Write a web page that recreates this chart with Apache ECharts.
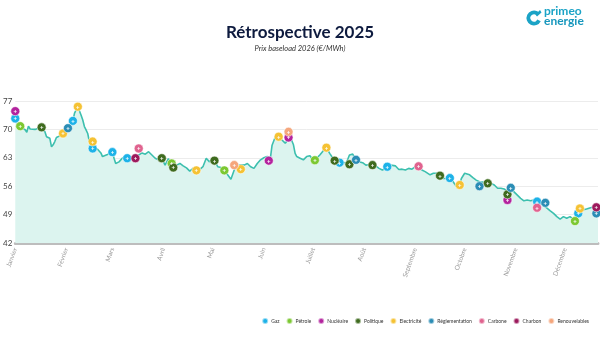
<!DOCTYPE html>
<html><head><meta charset="utf-8">
<script src="https://cdn.jsdelivr.net/npm/echarts@6/dist/echarts.min.js"></script>
<style>html,body{margin:0;padding:0;background:#fff}#c{width:600px;height:338px}</style>
</head><body><div id="c"></div>
<script>
const monthLabels = ['Janvier','Février','Mars','Avril','Mai','Juin','Juillet','Août','Septembre','Octobre','Novembre','Décembre'];

const lineDates = ['2025-01-01','2025-01-03','2025-01-05','2025-01-07','2025-01-08','2025-01-09','2025-01-10','2025-01-11','2025-01-13','2025-01-15','2025-01-17','2025-01-18','2025-01-19','2025-01-20','2025-01-21','2025-01-22','2025-01-23','2025-01-24','2025-01-25','2025-01-26','2025-01-27','2025-01-28','2025-01-30','2025-02-01','2025-02-02','2025-02-05','2025-02-06','2025-02-08','2025-02-10','2025-02-11','2025-02-12','2025-02-13','2025-02-14','2025-02-15','2025-02-16','2025-02-17','2025-02-20','2025-02-22','2025-02-23','2025-02-26','2025-03-01','2025-03-02','2025-03-03','2025-03-05','2025-03-07','2025-03-09','2025-03-11','2025-03-12','2025-03-15','2025-03-17','2025-03-19','2025-03-21','2025-03-23','2025-03-25','2025-03-27','2025-03-29','2025-03-31','2025-04-02','2025-04-04','2025-04-06','2025-04-07','2025-04-09','2025-04-11','2025-04-13','2025-04-15','2025-04-17','2025-04-19','2025-04-21','2025-04-23','2025-04-25','2025-04-27','2025-04-29','2025-05-01','2025-05-02','2025-05-04','2025-05-06','2025-05-08','2025-05-10','2025-05-12','2025-05-14','2025-05-15','2025-05-18','2025-05-20','2025-05-22','2025-05-24','2025-05-26','2025-05-28','2025-05-30','2025-06-01','2025-06-03','2025-06-05','2025-06-06','2025-06-08','2025-06-10','2025-06-12','2025-06-14','2025-06-15','2025-06-17','2025-06-19','2025-06-20','2025-06-21','2025-06-23','2025-06-25','2025-06-27','2025-06-29','2025-07-01','2025-07-03','2025-07-05','2025-07-07','2025-07-09','2025-07-11','2025-07-13','2025-07-15','2025-07-17','2025-07-19','2025-07-21','2025-07-23','2025-07-25','2025-07-27','2025-07-29','2025-07-31','2025-08-02','2025-08-06','2025-08-08','2025-08-10','2025-08-12','2025-08-15','2025-08-17','2025-08-20','2025-08-22','2025-08-24','2025-08-26','2025-08-28','2025-08-30','2025-09-01','2025-09-03','2025-09-05','2025-09-07','2025-09-10','2025-09-12','2025-09-14','2025-09-16','2025-09-18','2025-09-20','2025-09-22','2025-09-24','2025-09-26','2025-09-28','2025-09-29','2025-10-01','2025-10-02','2025-10-04','2025-10-06','2025-10-08','2025-10-10','2025-10-12','2025-10-15','2025-10-17','2025-10-19','2025-10-21','2025-10-23','2025-10-25','2025-10-27','2025-10-29','2025-10-31','2025-11-02','2025-11-04','2025-11-06','2025-11-08','2025-11-10','2025-11-12','2025-11-14','2025-11-16','2025-11-18','2025-11-20','2025-11-22','2025-11-24','2025-11-26','2025-11-28','2025-11-30','2025-12-02','2025-12-04','2025-12-05','2025-12-07','2025-12-09','2025-12-11','2025-12-14','2025-12-18','2025-12-21'];
const lineValues = [72.5,70.8,70.4,69.9,69.3,70.8,70.1,69.7,70.0,70.3,70.5,70.2,69.4,68.2,68.0,67.8,65.7,66.2,67.0,68.0,68.2,68.4,69.0,69.9,70.3,72.1,74.0,75.6,73.5,72.3,70.7,69.9,69.0,67.0,66.2,65.5,65.1,64.2,63.3,63.8,64.4,62.9,61.6,62.0,62.9,63.4,63.0,62.8,62.9,63.7,64.2,63.9,64.5,63.7,62.9,62.5,62.9,61.2,62.8,61.6,60.8,61.2,61.6,61.0,60.5,59.7,60.4,59.9,60.1,60.8,62.9,62.0,63.0,62.3,60.8,60.6,59.9,58.8,57.7,60.0,61.0,61.3,61.2,61.6,60.8,60.4,61.6,62.5,63.0,63.3,63.0,66.1,68.2,68.2,67.4,66.6,67.0,68.2,66.2,64.1,63.3,62.9,62.5,63.3,63.5,62.4,62.9,63.7,64.7,65.5,64.1,62.9,62.2,61.8,62.0,61.6,63.7,63.9,62.5,62.0,61.8,61.2,61.4,61.0,60.4,60.0,60.6,61.2,61.0,60.1,60.2,60.0,60.4,60.2,60.8,61.0,60.0,59.6,58.8,59.2,59.2,58.6,57.9,57.9,58.0,57.1,55.9,56.3,57.9,59.2,59.6,58.8,58.1,57.5,57.1,57.0,56.7,56.7,56.3,55.5,55.5,55.3,54.8,55.6,54.6,53.8,53.0,52.4,52.6,52.4,52.6,52.0,51.8,51.2,50.6,49.9,49.3,48.5,47.9,48.5,48.1,48.5,48.2,47.6,49.3,50.1,50.4,50.9,51.0];

const categories = ['Gaz','Pétrole','Nucléaire','Politique','Electricité','Réglementation','Carbone','Charbon','Renouvelables'];
const categoryColors = ['#1db2e8','#7cc832','#b3239e','#3f6b1f','#f5c234','#2b8db5','#e0638f','#9c1a5c','#f5a67c'];

const eventDates = ['2025-01-01','2025-01-01','2025-01-04','2025-01-17','2025-01-30','2025-02-02','2025-02-05','2025-02-08','2025-02-17','2025-02-17','2025-03-01','2025-03-10','2025-03-15','2025-03-17','2025-03-31','2025-04-06','2025-04-07','2025-04-21','2025-05-02','2025-05-08','2025-05-14','2025-05-18','2025-06-04','2025-06-10','2025-06-16','2025-06-16','2025-07-02','2025-07-09','2025-07-14','2025-07-17','2025-07-23','2025-07-27','2025-08-06','2025-08-15','2025-09-03','2025-09-16','2025-09-22','2025-09-28','2025-10-10','2025-10-15','2025-10-29','2025-10-27','2025-10-27','2025-11-14','2025-11-14','2025-11-19','2025-12-07','2025-12-09','2025-12-10','2025-12-20','2025-12-20'];
const eventValues = [74.5,72.7,70.8,70.5,69.0,70.3,72.1,75.6,67.0,65.3,64.4,62.9,62.9,65.3,62.9,61.6,60.6,59.9,62.3,59.9,61.2,60.2,62.3,68.2,68.0,69.4,62.4,65.5,62.3,61.8,61.4,62.5,61.2,60.8,60.9,58.6,58.0,56.3,56.0,56.7,55.6,54.0,52.6,52.2,50.7,51.9,47.4,49.3,50.5,50.8,49.3];
const eventTypes = ['Nucléaire','Gaz','Pétrole','Politique','Electricité','Réglementation','Gaz','Electricité','Electricité','Gaz','Gaz','Gaz','Charbon','Carbone','Politique','Pétrole','Politique','Electricité','Politique','Pétrole','Renouvelables','Electricité','Nucléaire','Electricité','Nucléaire','Renouvelables','Pétrole','Electricité','Politique','Gaz','Politique','Réglementation','Politique','Gaz','Carbone','Politique','Gaz','Electricité','Réglementation','Politique','Réglementation','Politique','Nucléaire','Gaz','Carbone','Réglementation','Pétrole','Gaz','Electricité','Charbon','Réglementation'];

const yMin = 42, yMax = 77, yStep = 7;

const chart = echarts.init(document.getElementById('c'), null, {renderer:'canvas'});
const FONT = 'Lato, "Open Sans", sans-serif';
const LOGO = '#1ba3c6';

const lineData = lineDates.map((d,i)=>[d, lineValues[i]]);
const eventSeries = categories.map((cat, ci) => ({
  name: cat,
  type: 'scatter',
  z: 5,
  symbol: 'circle',
  symbolSize: 9,
  itemStyle: {color: categoryColors[ci], borderColor: 'rgba(255,255,255,0.55)', borderWidth: 1, opacity: 1},
  label: {show: true, position: 'inside', formatter: '+', color: '#fff', fontSize: 6, fontWeight: 'bold', fontFamily: FONT},
  emphasis: {disabled: true},
  data: eventDates.map((d,i)=> eventTypes[i] === cat ? [d, eventValues[i]] : null).filter(v=>v)
}));

const option = {
  animation: false,
  backgroundColor: '#fff',
  color: categoryColors,
  title: {
    text: 'Rétrospective 2025',
    subtext: 'Prix baseload 2026 (€/MWh)',
    left: 'center', top: 19, itemGap: 4,
    textStyle: {fontFamily: FONT, fontSize: 17, fontWeight: 'bold', color: '#0d1a3e'},
    subtextStyle: {fontFamily: FONT, fontSize: 7.5, fontStyle: 'italic', color: '#333'}
  },
  legend: {
    data: categories,
    right: 6, bottom: 8,
    itemWidth: 6, itemHeight: 6, itemGap: 6,
    icon: 'circle',
    textStyle: {fontFamily: FONT, fontSize: 5, color: '#333', padding: [0,0,0,-2]}
  },
  grid: {left: 15, right: 2, top: 101, bottom: 95, containLabel: false},
  xAxis: {
    type: 'time',
    min: '2025-01-01', max: '2025-12-21',
    splitNumber: 12,
    axisLine: {show: true, lineStyle: {color: '#bdbdbd', width: 3, type: [1,1]}},
    axisTick: {show: false},
    splitLine: {show: false},
    axisLabel: {
      rotate: 70, fontSize: 6.5, color: '#9a9a9a', fontFamily: FONT, margin: 5,
      showMinLabel: true, showMaxLabel: false,
      formatter: function (v) { const d = new Date(v); return d.getDate() === 1 ? monthLabels[d.getMonth()] : ''; }
    }
  },
  yAxis: {
    type: 'value', min: yMin, max: yMax, interval: yStep,
    axisLine: {show: false}, axisTick: {show: false},
    splitLine: {lineStyle: {color: '#ececec', width: 1}},
    axisLabel: {fontSize: 8, color: '#444', fontFamily: FONT, margin: 3}
  },
  graphic: [
    {type: 'sector', shape: {cx: 534, cy: 18, r: 7.5, r0: 3.6, startAngle: 0.45, endAngle: Math.PI * 2 - 0.75, clockwise: true},
     style: {fill: LOGO}},
    {type: 'polygon', shape: {points: [[535.5, 14.5], [540, 10], [541.5, 12.5], [537, 16.5]]}, style: {fill: LOGO}},
    {type: 'text', left: 544, top: 5, style: {text: 'primeo', fontFamily: FONT, fontSize: 12, fontWeight: 'bold', fill: LOGO}},
    {type: 'text', left: 544, top: 15, style: {text: 'energie', fontFamily: FONT, fontSize: 12, fontWeight: 'bold', fill: '#1797bd'}}
  ],
  series: [
    {
      name: 'Prix', type: 'line', z: 2, data: lineData, symbol: 'none', smooth: false,
      lineStyle: {color: '#3cbfae', width: 1.6},
      areaStyle: {color: '#dcf4ef', opacity: 1},
      emphasis: {disabled: true}
    }
  ].concat(eventSeries)
};
chart.setOption(option);
</script></body></html>
